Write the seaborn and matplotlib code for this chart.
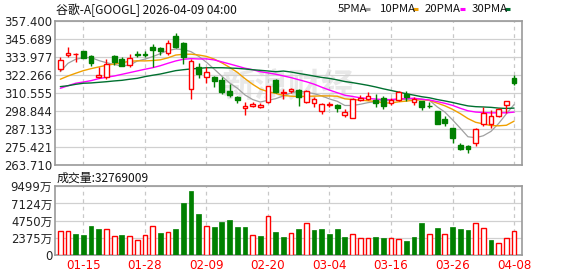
import numpy as np
import pandas as pd
import matplotlib
matplotlib.use("Agg")
import matplotlib.pyplot as plt
from matplotlib.lines import Line2D
import seaborn as sns

sns.set_theme(style="white")
plt.rcParams['font.family'] = ['Noto Sans CJK SC', 'DejaVu Sans']

# ---------------- data ----------------
title = "谷歌-A[GOOGL] 2026-04-09 04:00"
vol_title = "成交量:32769009"

opens = [326.2, 335.4, 335.7, 337.9, 334.6, 321.2, 320.8, 334.6, 332.5, 328.8,
         335.9, 335.9, 340.3, 340.0, 336.8, 347.8, 343.3, 313.0, 327.5, 321.2,
         320.8, 319.0, 311.9, 307.8, 300.6, 302.1, 301.6, 304.7, 319.0, 310.8,
         311.9, 312.5, 304.5, 303.9, 298.8, 302.9, 302.6, 296.4, 294.5, 306.0,
         306.5, 306.0, 307.5, 304.2, 306.0, 309.9, 304.5, 305.4, 302.3, 299.0,
         293.6, 287.6, 276.7, 276.1, 278.2, 290.4, 290.6, 295.8, 303.0, 320.5]
highs = [333.8, 340.3, 336.4, 338.0, 335.0, 327.7, 332.5, 335.3, 333.8, 335.9,
         337.9, 337.9, 342.4, 340.3, 345.0, 349.4, 343.9, 332.5, 330.3, 327.7,
         321.6, 320.8, 316.2, 308.6, 304.9, 304.9, 304.2, 315.3, 319.5, 313.2,
         314.0, 313.2, 312.5, 308.2, 303.9, 304.9, 303.2, 300.1, 307.2, 309.1,
         311.4, 309.6, 308.6, 307.1, 312.1, 311.9, 307.8, 305.4, 304.5, 299.0,
         295.6, 287.6, 278.2, 276.7, 288.0, 301.4, 299.3, 300.8, 305.2, 322.0]
lows = [324.7, 334.2, 330.9, 333.1, 328.3, 320.1, 319.7, 328.8, 328.1, 327.3,
        333.8, 333.8, 327.7, 335.3, 335.3, 339.6, 329.2, 306.7, 320.1, 316.9,
        314.7, 309.9, 307.8, 303.9, 296.2, 301.3, 300.6, 304.2, 310.7, 306.7,
        310.8, 302.1, 303.9, 301.3, 296.9, 301.3, 298.4, 294.7, 294.3, 305.4,
        306.0, 301.3, 300.1, 302.6, 305.4, 305.4, 302.5, 299.3, 301.0, 290.4,
        289.0, 277.9, 273.3, 271.7, 276.1, 289.4, 288.0, 295.0, 297.7, 315.7]
closes = [332.0, 336.3, 336.0, 333.5, 330.3, 322.3, 329.2, 330.5, 328.3, 333.1,
          335.5, 335.6, 338.5, 338.1, 343.3, 340.3, 334.2, 331.2, 322.9, 324.2,
          318.2, 311.0, 309.3, 306.0, 302.1, 303.2, 302.7, 315.1, 311.2, 311.0,
          313.2, 308.1, 311.9, 306.5, 303.6, 303.3, 300.6, 298.2, 306.5, 307.5,
          308.6, 303.9, 302.3, 306.0, 311.4, 307.8, 306.5, 301.3, 301.8, 290.4,
          290.8, 281.1, 274.3, 273.9, 287.1, 297.3, 295.4, 300.1, 305.2, 317.2]
# volume in units of 万 (10,000 shares)
volumes = [3278, 3278, 2904, 2766, 4011, 3596, 3550, 2582, 2766, 2582,
           2029, 2720, 3965, 3043, 3135, 3596, 7192, 8851, 5670, 3965,
           3872, 4564, 4840, 3872, 3872, 2720, 2628, 5347, 3181, 2489,
           3001, 3596, 4380, 3458, 3596, 2904, 3596, 2489, 2858, 2305,
           2305, 2489, 2351, 2305, 2213, 1936, 2489, 4426, 2858, 3734,
           2858, 3872, 3596, 3458, 4380, 3688, 2075, 1613, 2305, 3277]

# moving-average values before each window is full
ma5_head = [324.4, 329.9, 332.5, 333.5]
ma10_head = [319.5, 321.6, 323.4, 325.1, 326.4, 327.5, 328.6, 329.4, 330.3]
ma20_head = [313.6, 315.3, 316.9, 317.7, 318.6, 319.9, 320.8, 321.6, 322.7, 323.8,
             324.9, 326.0, 327.0, 328.3, 329.9, 331.4, 332.5, 332.9, 332.7]
ma30_head = [314.7, 315.3, 316.2, 316.9, 317.1, 317.5, 317.9, 318.4, 318.8, 319.5,
             320.1, 321.2, 322.1, 322.9, 324.0, 325.1, 325.7, 326.2, 326.6, 327.0,
             327.0, 327.0, 326.8, 326.6, 326.2, 325.7, 325.3, 324.9, 324.4]

date_pos = [3, 11, 19, 27, 35, 43, 51, 59]
date_labels = ["01-15", "01-28", "02-09", "02-20", "03-04", "03-16", "03-26", "04-08"]
price_ticks = ["263.710", "275.421", "287.133", "298.844", "310.555",
               "322.266", "333.977", "345.689", "357.400"]
vol_ticks = [0, 2375, 4750, 7124, 9499]
vol_tick_labels = ["0", "2375万", "4750万", "7124万", "9499万"]
ma_names = ["5PMA", "10PMA", "20PMA", "30PMA"]
ma_windows = [5, 10, 20, 30]
ma_colors = ["#a0a0a0", "#f0a000", "#ff00ff", "#007030"]

# ---------------- derived frame ----------------
n = len(closes)
df = pd.DataFrame({"i": np.arange(n), "open": opens, "high": highs,
                   "low": lows, "close": closes, "vol": volumes})
heads = [ma5_head, ma10_head, ma20_head, ma30_head]
for name, w, head in zip(ma_names, ma_windows, heads):
    s = df["close"].rolling(w).mean()
    s.iloc[:w - 1] = head
    df[name] = s
df["up"] = df["close"] >= df["open"]
df["vol_up"] = df["close"].diff().fillna(1) >= 0

RED = "#ff0000"
GREEN = "#008000"
W, H = 578, 276
fig = plt.figure(figsize=(W / 100, H / 100), dpi=100)
fig.patch.set_facecolor("white")

def fx(px):
    return px / W

def fy(py):
    return 1 - py / H

L, R = 55, 522
ax = fig.add_axes([fx(L), fy(165), (R - L) / W, (165 - 21) / H])
axv = fig.add_axes([fx(L), fy(255), (R - L) / W, (255 - 186.3) / H])

xlim = (-0.69, n + 0.03)

# ---------------- price panel ----------------
for name, col, lw in zip(ma_names, ma_colors, [0.9, 1.0, 1.0, 1.0]):
    sns.lineplot(data=df, x="i", y=name, ax=ax, color=col, lw=lw,
                 legend=False, zorder=2)

cw = 0.62
for r in df.itertuples():
    col = RED if r.up else GREEN
    ax.vlines(r.i, r.low, r.high, color=col, lw=1.0, zorder=3)
    bottom = min(r.open, r.close)
    height = max(abs(r.close - r.open), 0.15)
    ax.bar(r.i, height, bottom=bottom, width=cw,
           facecolor="white" if r.up else GREEN, edgecolor=col,
           lw=1.0, zorder=4)

ymin, ymax = 263.71, 357.4
ax.set_ylim(ymin, ymax)
ax.set_xlim(*xlim)
ax.set_yticks(np.linspace(ymin, ymax, 9))
ax.set_yticklabels(price_ticks)
ax.set_xticks(date_pos)
ax.set_xticklabels([])
ax.set_xlabel("")
ax.set_ylabel("")

# ---------------- volume panel ----------------
sns.barplot(data=df, x="i", y="vol", ax=axv, width=0.62, color=GREEN,
            saturation=1, errorbar=None, zorder=3)
for p, up in zip(axv.patches, df["vol_up"]):
    if up:
        p.set_facecolor("white")
        p.set_edgecolor(RED)
        p.set_linewidth(1.0)
    else:
        p.set_facecolor(GREEN)
        p.set_edgecolor(GREEN)
        p.set_linewidth(0.5)
axv.set_xlim(*xlim)
axv.set_ylim(0, 9499)
axv.set_yticks(vol_ticks)
axv.set_yticklabels(vol_tick_labels)
axv.set_xticks(date_pos)
axv.set_xticklabels(date_labels, color=RED)
axv.set_xlabel("")
axv.set_ylabel("")

for a in (ax, axv):
    a.set_axisbelow(True)
    a.grid(axis="y", color="#d0d0d0", lw=0.9, ls="-")
    a.grid(axis="x", color="#c8c8c8", lw=0.9, ls=(0, (3, 3)))
    for s in a.spines.values():
        s.set_visible(True)
        s.set_color("#9a9a9a")
        s.set_linewidth(1.2)
    a.tick_params(axis="both", length=0, pad=2)
    for t in a.get_yticklabels():
        t.set_fontsize(8.4)
        t.set_color("#222222")
        t.set_family(["DejaVu Sans", "Noto Sans CJK SC"])
for t in axv.get_xticklabels():
    t.set_fontsize(8.6)
    t.set_family(["DejaVu Sans"])
    t.set_color(RED)
axv.tick_params(axis="x", pad=3)

# watermark
ax.text(fx(288), fy(88), "新浪财经", transform=fig.transFigure,
        fontsize=24, color="#e8e8e8", ha="center", va="center",
        fontweight="bold", style="italic", zorder=0.5)

# ---------------- texts ----------------
fig.text(fx(56), fy(10), title, fontsize=8.6, color="#111111",
         ha="left", va="center")
fig.text(fx(57), fy(178), vol_title, fontsize=8.6, color="#111111",
         ha="left", va="center")

leg_x = [338, 380, 425, 472]
dash_x = [365, 413, 460, 505]
for name, col, tx, dx in zip(ma_names, ma_colors, leg_x, dash_x):
    fig.text(fx(tx), fy(9), name, fontsize=8.2, color="#111111",
             ha="left", va="center")
    fig.add_artist(Line2D([fx(dx), fx(dx + 5)], [fy(9), fy(9)],
                          color=col, lw=2.2, transform=fig.transFigure,
                          solid_capstyle="butt"))

fig.savefig("out.png", dpi=100, facecolor="white")
